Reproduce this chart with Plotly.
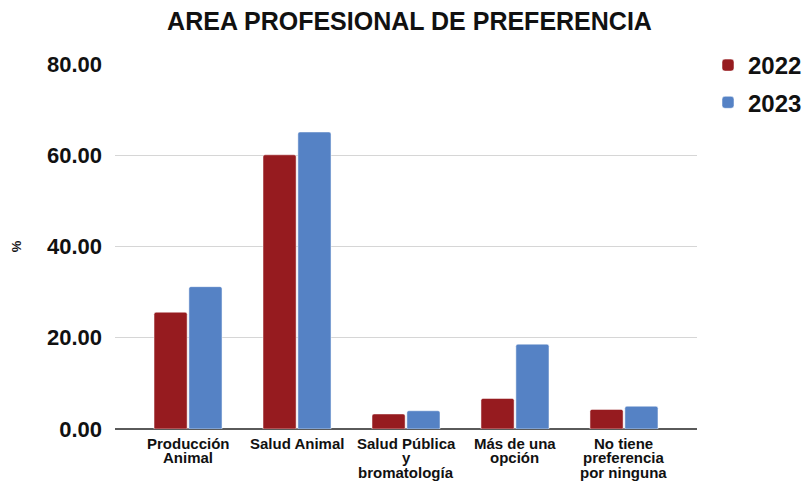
import plotly.graph_objects as go

# Area profesional de preferencia (%), 2022 vs 2023
categorias = [
    "Producción<br>Animal",
    "Salud Animal",
    "Salud Pública<br>y<br>bromatología",
    "Más de una<br>opción",
    "No tiene<br>preferencia<br>por ninguna",
]
valores_2022 = [25.6, 60.1, 3.3, 6.7, 4.3]
valores_2023 = [31.2, 65.1, 4.0, 18.6, 5.0]
y_ticks = [0, 20, 40, 60, 80]

FONT = "Liberation Sans, Arial, sans-serif"
# the page body adds an 8px margin, so the figure is drawn 8px smaller
W, H = 802, 475
PLOT_H = 365

fig = go.Figure()
fig.add_trace(go.Bar(
    name="<b>2022</b>", x=categorias, y=valores_2022,
    marker=dict(color="#961b1f", line=dict(color="white", width=0.5)),
    legendgroup="a",
))
fig.add_trace(go.Bar(
    name="<b>2023</b>", x=categorias, y=valores_2023,
    marker=dict(color="#5582c5", line=dict(color="white", width=0.5)),
    legendgroup="b",
))

# category labels, one annotation per line so the line spacing stays tight
for cat in categorias:
    for i, linea in enumerate(cat.split("<br>")):
        fig.add_annotation(
            x=cat, xref="x", y=-(14 + 14.5 * i) / PLOT_H, yref="paper",
            text=f"<b>{linea}</b>", showarrow=False,
            xanchor="center", yanchor="middle",
            font=dict(size=15, family=FONT, color="#111111"),
        )

fig.update_layout(
    width=W, height=H,
    margin=dict(l=107, r=W - 689, t=56, b=H - 421, autoexpand=False),
    paper_bgcolor="white", plot_bgcolor="white",
    font=dict(family=FONT, color="#111111"),
    title=dict(
        text="<b>AREA PROFESIONAL DE PREFERENCIA</b>",
        font=dict(size=25, family=FONT, color="#111111"),
        x=401.5 / W, xref="container", xanchor="center",
        y=1 - 13 / H, yref="container", yanchor="middle",
    ),
    barmode="group", bargap=0.36, bargroupgap=0.05,
    barcornerradius=2,
    legend=dict(
        x=700 / W, y=1 - 35 / H, xref="container", yref="container",
        xanchor="left", yanchor="top",
        font=dict(size=24, family=FONT, color="#111111"),
        tracegroupgap=3, itemclick=False,
        bgcolor="rgba(0,0,0,0)",
    ),
    showlegend=True,
)

fig.update_xaxes(
    range=[-0.67, 4.67], automargin=False,
    showticklabels=False,
    showline=False, showgrid=False, ticks="",
)
fig.update_yaxes(
    range=[0, 80], automargin=False,
    tickvals=y_ticks, ticktext=[f"<b>{v:.2f}</b>" for v in y_ticks],
    tickfont=dict(size=22, family=FONT, color="#111111"),
    showgrid=True, gridcolor="#d6d6d6", gridwidth=1,
    zeroline=True, zerolinecolor="#5a5a5a", zerolinewidth=2,
    ticklabelstandoff=12,
    title=dict(text="<b>%</b>", font=dict(size=13, family=FONT, color="#111111"), standoff=22),
)

fig.write_html("out.html")
